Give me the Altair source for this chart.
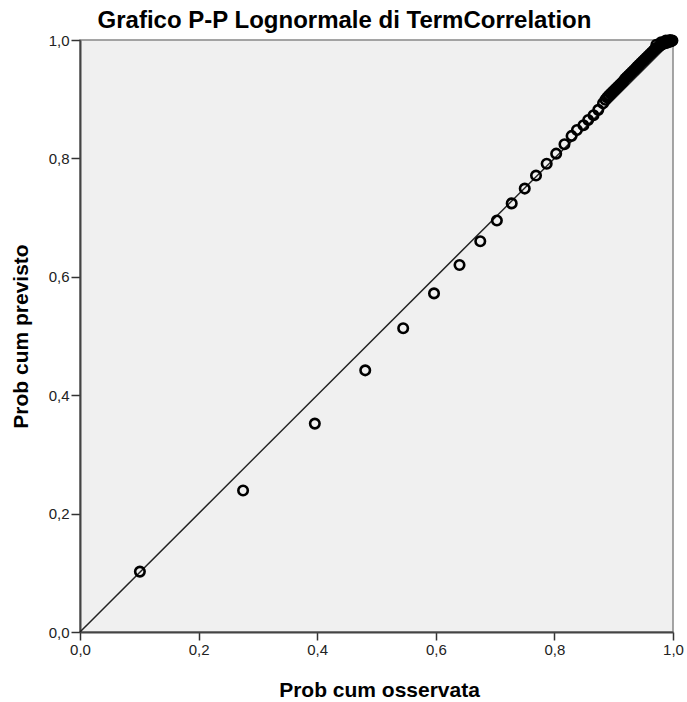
import altair as alt
import pandas as pd

# Observed cumulative probability (x) and expected cumulative probability (y)
obs_prob = [
    0.101, 0.275, 0.396, 0.481, 0.545, 0.597, 0.640, 0.675, 0.703, 0.728,
    0.750, 0.769, 0.787, 0.803, 0.817, 0.829, 0.838, 0.849, 0.857, 0.866,
    0.874, 0.882,
    0.886, 0.889, 0.892, 0.895, 0.898, 0.901, 0.904, 0.907, 0.910, 0.913,
    0.916, 0.919, 0.922, 0.925, 0.928, 0.931, 0.934, 0.937, 0.940, 0.943,
    0.946, 0.949, 0.952, 0.955, 0.958, 0.961, 0.964, 0.967, 0.970, 0.973,
    0.976, 0.979, 0.982, 0.985, 0.988, 0.991, 0.994, 0.997, 0.999,
    0.972, 0.980, 0.988, 0.995,
]
exp_prob = [
    0.102, 0.239, 0.352, 0.442, 0.513, 0.572, 0.620, 0.660, 0.695, 0.724,
    0.749, 0.771, 0.791, 0.808, 0.824, 0.838, 0.848, 0.856, 0.865, 0.873,
    0.882, 0.893,
    0.899, 0.903, 0.906, 0.909, 0.912, 0.915, 0.918, 0.921, 0.924, 0.927,
    0.930, 0.934, 0.937, 0.940, 0.943, 0.946, 0.949, 0.952, 0.955, 0.958,
    0.961, 0.964, 0.967, 0.970, 0.973, 0.976, 0.979, 0.982, 0.985, 0.987,
    0.989, 0.991, 0.993, 0.994, 0.995, 0.996, 0.997, 0.998, 0.999,
    0.992, 0.996, 0.999, 1.000,
]

# Reference (diagonal) line endpoints
diag_x = [0.0, 1.0]
diag_y = [0.0, 1.0]

tick_values = [0.0, 0.2, 0.4, 0.6, 0.8, 1.0]

pts = pd.DataFrame({"obs": obs_prob, "exp": exp_prob})
diag = pd.DataFrame({"obs": diag_x, "exp": diag_y})

FONT = "Liberation Sans"
label_expr = "replace(format(datum.value, '.1f'), '.', ',')"

x_enc = alt.X(
    "obs:Q",
    scale=alt.Scale(domain=[0, 1], nice=False, zero=False),
    axis=alt.Axis(
        values=tick_values, labelExpr=label_expr, grid=False,
        title="Prob cum osservata", titleX=299, titleY=58,
        titleAlign="center", titleBaseline="middle",
        titleFontSize=21, titleFontWeight="bold", titleColor="#000000",
        titleFont=FONT, labelFont=FONT, labelFontSize=15, labelColor="#222222",
        labelPadding=2, tickSize=8, tickColor="#333333", tickWidth=1.5,
        domainColor="#444444", domainWidth=2, labelFlush=False,
    ),
)
y_enc = alt.Y(
    "exp:Q",
    scale=alt.Scale(domain=[0, 1], nice=False, zero=False),
    axis=alt.Axis(
        values=tick_values, labelExpr=label_expr, grid=False,
        title="Prob cum previsto", titleX=-59, titleY=296, titleAngle=270,
        titleAlign="center", titleBaseline="middle",
        titleFontSize=21, titleFontWeight="bold", titleColor="#000000",
        titleFont=FONT, labelFont=FONT, labelFontSize=15, labelColor="#222222",
        labelPadding=2, tickSize=9, tickColor="#333333", tickWidth=1.5,
        domainColor="#444444", domainWidth=2, labelFlush=False,
    ),
)

line = alt.Chart(diag).mark_line(color="#222222", strokeWidth=1.5).encode(
    x=x_enc, y=y_enc
)

points = alt.Chart(pts).mark_point(
    shape="circle", filled=False, size=90, strokeWidth=2.6, color="#000000", opacity=1
).encode(x=x_enc, y=y_enc)

chart = (
    alt.layer(line, points)
    .properties(
        width=593,
        height=592,
        autosize=alt.AutoSizeParams(type="none"),
        padding={"left": 80, "top": 40, "right": 14, "bottom": 70},
        title=alt.TitleParams(
            "Grafico P-P Lognormale di TermCorrelation",
            font=FONT, fontSize=24, fontWeight="bold", color="#000000",
            anchor="middle", offset=-3, dx=-32,
        ),
        background="#FFFFFF",
    )
    .configure_axis(labelFontSize=15, tickSize=8, labelFont=FONT)
    .configure_view(fill="#F0F0F0", stroke="#888888", strokeWidth=1.5)
)

chart.save("out.html", embed_options={"renderer": "svg", "actions": False})
